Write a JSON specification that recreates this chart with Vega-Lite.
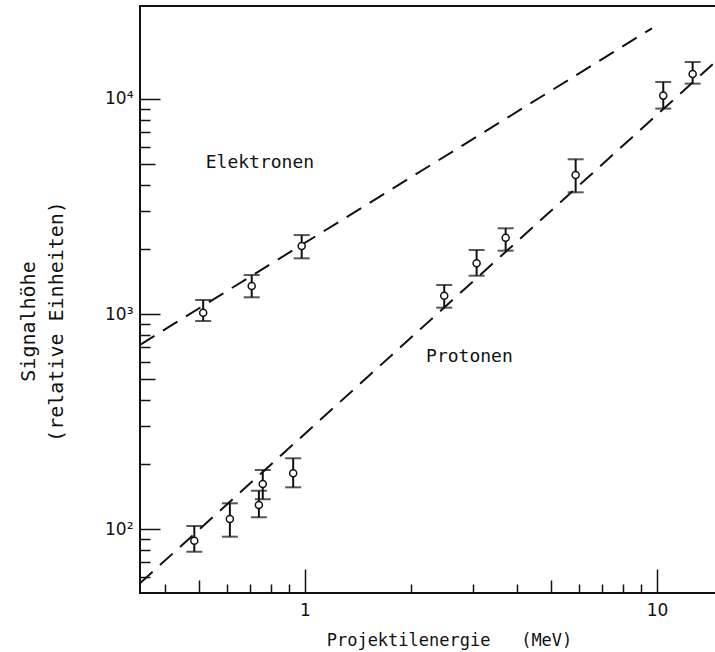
{
  "$schema": "https://vega.github.io/schema/vega-lite/v6.json",
  "width": 577,
  "height": 587,
  "autosize": {"type": "none"},
  "padding": {"left": 140, "top": 6, "right": 0, "bottom": 59},
  "background": "white",
  "config": {
    "view": {"stroke": "#111", "strokeWidth": 2},
    "font": "DejaVu Sans Mono",
    "axis": {"domain": false, "grid": false, "tickColor": "#111", "tickWidth": 1.5, "labelFlush": false, "labelOverlap": false}
  },
  "resolve": {"axis": {"x": "independent", "y": "independent"}},
  "datasets": {
    "lines": [
      {"E": 0.34, "S": 719, "series": "Elektronen"},
      {"E": 9.68, "S": 21320, "series": "Elektronen"},
      {"E": 0.34, "S": 56.0, "series": "Protonen"},
      {"E": 14.4, "S": 14500, "series": "Protonen"}
    ],
    "points": [
      {"E": 0.514, "S": 1014, "lo": 928, "hi": 1162, "series": "Elektronen"},
      {"E": 0.706, "S": 1350, "lo": 1196, "hi": 1518, "series": "Elektronen"},
      {"E": 0.979, "S": 2071, "lo": 1815, "hi": 2329, "series": "Elektronen"},
      {"E": 0.485, "S": 88.2, "lo": 78.4, "hi": 103.3, "series": "Protonen"},
      {"E": 0.612, "S": 111.3, "lo": 92.1, "hi": 131.7, "series": "Protonen"},
      {"E": 0.740, "S": 129.3, "lo": 113.4, "hi": 150.7, "series": "Protonen"},
      {"E": 0.759, "S": 161.9, "lo": 137.5, "hi": 188.1, "series": "Protonen"},
      {"E": 0.926, "S": 181.6, "lo": 156.3, "hi": 213.3, "series": "Protonen"},
      {"E": 2.487, "S": 1217, "lo": 1070, "hi": 1364, "series": "Protonen"},
      {"E": 3.074, "S": 1721, "lo": 1507, "hi": 1985, "series": "Protonen"},
      {"E": 3.717, "S": 2264, "lo": 1970, "hi": 2504, "series": "Protonen"},
      {"E": 5.875, "S": 4431, "lo": 3681, "hi": 5243, "series": "Protonen"},
      {"E": 10.42, "S": 10370, "lo": 9023, "hi": 12000, "series": "Protonen"},
      {"E": 12.63, "S": 13070, "lo": 11790, "hi": 14860, "series": "Protonen"}
    ],
    "labels": [
      {"E": 0.745, "S": 5039, "label": "Elektronen"},
      {"E": 2.933, "S": 631, "label": "Protonen"}
    ]
  },
  "layer": [
    {
      "data": {"name": "lines"},
      "mark": {"type": "line", "color": "#111", "strokeWidth": 2, "strokeDash": [17, 10]},
      "encoding": {
        "x": {
          "field": "E", "type": "quantitative",
          "scale": {"type": "log", "domain": [0.34, 14.81], "nice": false},
          "axis": {
            "orient": "bottom",
            "values": [1, 10],
            "format": "d",
            "tickSize": -24,
            "labelFont": "DejaVu Sans", "labelFontSize": 17, "labelColor": "#111",
            "labelPadding": 33,
            "title": "Projektilenergie\u00a0\u00a0\u00a0(MeV)",
            "titleFont": "DejaVu Sans Mono", "titleFontSize": 17, "titleFontWeight": "normal",
            "titleColor": "#111", "titleX": 309, "titleY": 52, "titleBaseline": "alphabetic", "titleAlign": "center"
          }
        },
        "y": {
          "field": "S", "type": "quantitative",
          "scale": {"type": "log", "domain": [50.4, 27070], "nice": false},
          "axis": {
            "orient": "left",
            "values": [100, 1000, 10000],
            "labelExpr": "datum.value == 100 ? '10²' : (datum.value == 1000 ? '10³' : '10⁴')",
            "tickSize": -20,
            "labelFont": "DejaVu Sans", "labelFontSize": 17, "labelColor": "#111",
            "labelPadding": 27,
            "title": ["Signalhöhe", "(relative Einheiten)"],
            "titleFont": "DejaVu Sans Mono", "titleFontSize": 20, "titleFontWeight": "normal",
            "titleColor": "#111", "titleX": -112, "titleY": 315, "titleAngle": -90,
            "titleBaseline": "middle", "titleAlign": "center", "titleLineHeight": 28
          }
        },
        "detail": {"field": "series"}
      }
    },
    {
      "data": {"name": "points"},
      "mark": {"type": "rule", "color": "#111", "strokeWidth": 2},
      "encoding": {
        "x": {"field": "E", "type": "quantitative", "scale": {"type": "log", "domain": [0.34, 14.81], "nice": false},
              "axis": {"orient": "bottom", "values": [0.5, 5], "tickSize": -13, "labels": false, "title": null}},
        "y": {"field": "lo", "type": "quantitative", "scale": {"type": "log", "domain": [50.4, 27070], "nice": false},
              "axis": {"orient": "left", "values": [500, 5000], "tickSize": -15, "labels": false, "title": null}},
        "y2": {"field": "hi"}
      }
    },
    {
      "data": {"name": "points"},
      "mark": {"type": "tick", "orient": "horizontal", "color": "#111", "size": 16, "thickness": 2},
      "encoding": {
        "x": {"field": "E", "type": "quantitative", "scale": {"type": "log", "domain": [0.34, 14.81], "nice": false}, "axis": null},
        "y": {"field": "lo", "type": "quantitative", "scale": {"type": "log", "domain": [50.4, 27070], "nice": false}, "axis": null}
      }
    },
    {
      "data": {"name": "points"},
      "mark": {"type": "tick", "orient": "horizontal", "color": "#111", "size": 16, "thickness": 2},
      "encoding": {
        "x": {"field": "E", "type": "quantitative", "scale": {"type": "log", "domain": [0.34, 14.81], "nice": false}, "axis": null},
        "y": {"field": "hi", "type": "quantitative", "scale": {"type": "log", "domain": [50.4, 27070], "nice": false}, "axis": null}
      }
    },
    {
      "data": {"name": "points"},
      "mark": {"type": "point", "shape": "circle", "filled": true, "fill": "white", "stroke": "#111", "strokeWidth": 1.5, "size": 50, "opacity": 1},
      "encoding": {
        "x": {"field": "E", "type": "quantitative", "scale": {"type": "log", "domain": [0.34, 14.81], "nice": false},
              "axis": {"orient": "bottom", "values": [0.4, 0.6, 0.7, 0.8, 0.9, 2, 3, 4, 6, 7, 8, 9], "tickSize": -9, "labels": false, "title": null}},
        "y": {"field": "S", "type": "quantitative", "scale": {"type": "log", "domain": [50.4, 27070], "nice": false},
              "axis": {"orient": "left", "values": [60, 70, 80, 90, 200, 300, 400, 600, 700, 800, 900, 2000, 3000, 4000, 6000, 7000, 8000, 9000], "tickSize": -10, "labels": false, "title": null}}
      }
    },
    {
      "data": {"name": "labels"},
      "mark": {"type": "text", "font": "DejaVu Sans Mono", "fontSize": 18, "color": "#111", "align": "center", "baseline": "middle"},
      "encoding": {
        "x": {"field": "E", "type": "quantitative", "scale": {"type": "log", "domain": [0.34, 14.81], "nice": false}, "axis": null},
        "y": {"field": "S", "type": "quantitative", "scale": {"type": "log", "domain": [50.4, 27070], "nice": false}, "axis": null},
        "text": {"field": "label"}
      }
    }
  ]
}
